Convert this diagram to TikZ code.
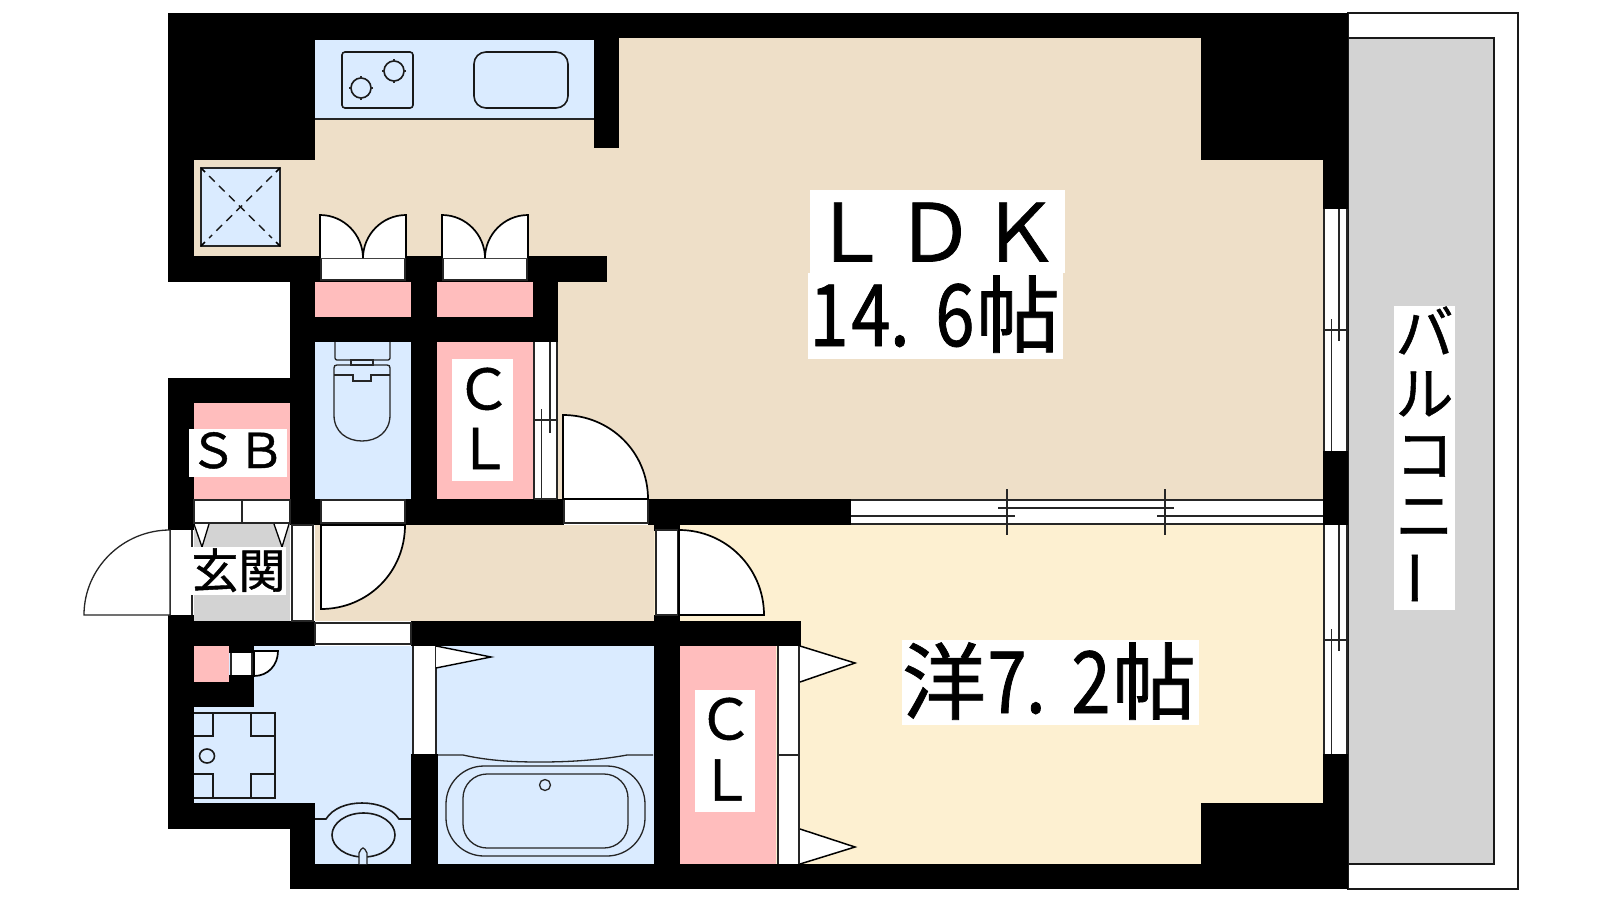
\documentclass[tikz,border=0pt]{standalone}
\usepackage{fontspec}
\newfontfamily\jp[FakeBold=0.9]{Noto Sans CJK JP}
\newfontfamily\jpn[FakeStretch=0.82,FakeBold=0.9]{Noto Sans CJK JP}
\definecolor{tanroom}{HTML}{EEDFC8}
\definecolor{creamroom}{HTML}{FDF0D1}
\definecolor{wetroom}{HTML}{DAEBFF}
\definecolor{closet}{HTML}{FFBDBD}
\definecolor{porch}{HTML}{D3D3D3}
\newcommand{\hw}[1]{\makebox[42pt][c]{\jpn\fontsize{86}{86}\selectfont #1}}
\newcommand{\hwdot}{\makebox[42pt][l]{\hspace{-2pt}\jpn\fontsize{86}{86}\selectfont .}}
\newcommand{\wide}[1]{\makebox[85pt][c]{\jp\fontsize{80}{80}\selectfont #1}}
\tikzset{
  wall/.style={fill=black},
  opening/.style={fill=white},
  fine/.style={draw=black!85,line width=1.3pt},
  fix/.style={draw=black!90,line width=1.6pt},
  leaf/.style={draw=black,line width=1.7pt,fill=white,line join=miter},
  label/.style={inner sep=0pt,outer sep=0pt,anchor=base,text=black},
}
\begin{document}
\begin{tikzpicture}[x=1pt,y=-1pt]
\useasboundingbox (0,0) rectangle (1600,900);
\fill[white] (0,0) rectangle (1600,900);
% balcony
\fill[white,fix] (1348,13) rectangle (1518,889);
\fill[porch,fix] (1348,38) rectangle (1494,864);
% rooms
\fill[tanroom] (194,38) rectangle (1323,282);
\fill[tanroom] (558,282) rectangle (1323,500);
\fill[tanroom] (315,525) rectangle (654,621);
\fill[creamroom] (654,525) rectangle (1323,864);
\fill[wetroom] (315,40) rectangle (594,119);
\draw[fine] (315,119) -- (594,119);
\fill[wetroom] (315,342) rectangle (411,499);
\fill[wetroom] (194,646) rectangle (411,803);
\fill[wetroom] (315,803) rectangle (411,864);
\fill[wetroom] (411,646) rectangle (654,864);
\fill[closet] (315,282) rectangle (411,317);
\fill[closet] (437,282) rectangle (533,317);
\fill[closet] (437,342) rectangle (533,499);
\fill[closet] (194,403) rectangle (290,499);
\fill[closet] (194,646) rectangle (229,682);
\fill[closet] (680,646) rectangle (776,864);
\fill[porch] (194,523) rectangle (290,621);
% walls
\fill[wall] (168,13) rectangle (619,40);
\fill[wall] (619,13) rectangle (1348,38);
\fill[wall] (168,13) rectangle (315,160);
\fill[wall] (168,13) rectangle (194,282);
\fill[wall] (168,256) rectangle (607,282);
\fill[wall] (594,13) rectangle (619,148);
\fill[wall] (290,282) rectangle (315,525);
\fill[wall] (290,317) rectangle (558,342);
\fill[wall] (411,282) rectangle (437,342);
\fill[wall] (533,282) rectangle (558,342);
\fill[wall] (411,342) rectangle (437,525);
\fill[wall] (290,499) rectangle (321,525);
\fill[wall] (405,499) rectangle (564,525);
\fill[wall] (648,499) rectangle (851,525);
\fill[wall] (168,378) rectangle (290,403);
\fill[wall] (168,378) rectangle (194,530);
\fill[wall] (654,525) rectangle (680,531);
\fill[wall] (654,615) rectangle (680,864);
\fill[wall] (168,621) rectangle (315,646);
\fill[wall] (411,621) rectangle (801,646);
\fill[wall] (168,615) rectangle (194,829);
\fill[wall] (168,803) rectangle (315,829);
\fill[wall] (290,803) rectangle (315,889);
\fill[wall] (290,864) rectangle (1348,889);
\fill[wall] (411,754) rectangle (438,864);
\fill[wall] (1201,13) rectangle (1348,160);
\fill[wall] (1323,13) rectangle (1348,209);
\fill[wall] (1323,451) rectangle (1348,525);
\fill[wall] (1323,754) rectangle (1348,889);
\fill[wall] (1201,803) rectangle (1348,889);
\fill[wall] (194,682) rectangle (254,707);
\fill[wall] (229,646) rectangle (254,653);
\fill[wall] (229,675) rectangle (254,682);
% kitchen fixtures
\draw[fix,rounded corners=3pt] (342,52) rectangle (413,108);
\foreach \cx/\cy in {361/88,394/71}{
  \draw[fix] (\cx,\cy) circle[radius=10pt];
  \draw[fine] (\cx-12,\cy) -- (\cx-9,\cy) (\cx+12,\cy) -- (\cx+9,\cy) (\cx,\cy-12) -- (\cx,\cy-9) (\cx,\cy+12) -- (\cx,\cy+9);
}
\draw[fix,rounded corners=12pt] (474,52) rectangle (568,108);
% shaft
\fill[wetroom,draw=black!85,line width=1.6pt] (201,168) rectangle (280,246);
\draw[black!90,line width=1.4pt,dash pattern=on 8pt off 6pt] (209,176) -- (272,238) (272,176) -- (209,238);
\draw[black,line width=1.6pt] (201,168) -- (205,172) (280,168) -- (276,172) (201,246) -- (205,242) (280,246) -- (276,242);
% double doors above closets
\foreach \dx in {321,443}{
  \fill[opening,fine] (\dx,258) rectangle (\dx+84,280);
  \fill[white] (\dx,215) -- (\dx,258) -- (\dx+84,258) -- (\dx+84,215) .. controls (\dx+60,215) and (\dx+42,235) .. (\dx+42,258) .. controls (\dx+42,235) and (\dx+24,215) .. (\dx,215) -- cycle;
  \draw[black,line width=1.7pt] (\dx-1,258) -- (\dx-1,215) .. controls (\dx+23,215) and (\dx+42,235) .. (\dx+42,258) .. controls (\dx+42,235) and (\dx+61,215) .. (\dx+85,215) -- (\dx+85,258);
}
% toilet
\draw[fine,rounded corners=2pt] (335,342) -- (335,360) -- (390,360) -- (390,342);
\draw[fine] (351,360) rectangle (373,365);
\draw[fine] (334,415) -- (334,368) .. controls (334,366) and (335,365) .. (337,365) -- (387,365) .. controls (389,365) and (390,366) .. (390,368) -- (390,415) .. controls (390,432) and (377,441) .. (362,441) .. controls (347,441) and (334,432) .. (334,415) -- cycle;
\draw[fine] (334,375) -- (353,375) -- (353,381) -- (371,381) -- (371,375) -- (390,375);
% CL sliding doors
\fill[opening] (534,342) rectangle (557,499);
\draw[fine] (534,342) -- (534,499) (557,342) -- (557,499) (534,499) -- (557,499) (534,420) -- (557,420) (550,342) -- (550,433) (541.5,409) -- (541.5,499);
% LDK door
\fill[opening,fine] (564,499) rectangle (648,523);
\draw[leaf] (563,499) -- (563,415) .. controls (610,415) and (648,452) .. (648,499) -- cycle;
% bedroom door
\fill[opening,fine] (656,530) rectangle (678,615);
\draw[leaf] (679,615) -- (679,530) .. controls (726,530) and (764,568) .. (764,615) -- cycle;
% SB doors
\fill[opening,fine] (194,500) rectangle (290,523);
\draw[fine] (242,500) -- (242,523);
\draw[leaf,line width=1.3pt] (194,524) -- (202,547) -- (209,524);
\draw[leaf,line width=1.3pt] (274,524) -- (282,547) -- (289,524);
% entrance
\fill[opening] (170,530) rectangle (194,615);
\draw[fine] (170,530) -- (170,615) (192,530) -- (192,615);
\draw[fine,fill=white] (170,615) -- (170,530) .. controls (123,530) and (84,568) .. (84,615) -- cycle;
\fill[opening] (290,525) rectangle (315,621);
\draw[fine] (292,525) rectangle (313,621);
% toilet door
\fill[opening,fine] (321,500) rectangle (405,523);
\draw[leaf] (321,525) -- (321,609) .. controls (368,609) and (405,572) .. (405,525) -- cycle;
% openings in wash room
\fill[opening,fine] (315,623) rectangle (411,644);
\fill[opening] (231,653) rectangle (252,675);
\draw[fine] (231,653) -- (231,675) (252,653) -- (252,675);
\draw[leaf] (254,651) -- (278,651) .. controls (278,665) and (268,676) .. (254,676) -- cycle;
% washing pan
\draw[fix] (194,713) -- (275,713) -- (275,798) -- (194,798);
\draw[fix] (194,736) -- (213,736) -- (213,713) (275,736) -- (251,736) -- (251,713) (194,774) -- (213,774) -- (213,798) (275,774) -- (251,774) -- (251,798);
\draw[fix] (207,756) ellipse[x radius=7.5pt,y radius=7pt];
% vanity
\draw[fix] (315,819) -- (326,819) .. controls (333,808) and (347,803) .. (362,803) .. controls (377,803) and (392,808) .. (399,819) -- (411,819);
\draw[fix] (363.5,835) ellipse[x radius=31.5pt,y radius=22pt];
\fill[wetroom,fine] (359,864) -- (359,853) .. controls (360,850) and (362,848) .. (363,848) .. controls (364,848) and (366,850) .. (367,853) -- (367,864);
% bathroom door
\fill[opening] (413,646) rectangle (436,754);
\draw[fine] (413,646) -- (413,754) (436,646) -- (436,754);
\draw[leaf,line width=1.4pt] (436,646) -- (491,657) -- (436,668);
% tub
\draw[fine] (438,755) -- (463,755) .. controls (490,761) and (515,762) .. (540,762) .. controls (570,762) and (600,760) .. (627,755) -- (653,755);
\draw[fine,rounded corners=38pt] (446,766) rectangle (645,856);
\draw[fine,rounded corners=24pt] (463,774) rectangle (628,848);
\draw[fine] (545,785) circle[radius=5.5pt];
% bedroom closet doors
\fill[opening] (778,646) rectangle (799,864);
\draw[fine] (778,646) -- (778,864) (799,646) -- (799,864) (778,755) -- (799,755);
\draw[leaf,line width=1.5pt] (800,646) -- (855,663) -- (800,682);
\draw[leaf,line width=1.5pt] (800,829) -- (855,847) -- (800,864);
% south windows
\foreach \wy in {209,525}{
  \pgfmathsetmacro{\wb}{\wy==209 ? 451 : 754}
  \pgfmathsetmacro{\wm}{\wy==209 ? 330 : 640}
  \pgfmathsetmacro{\wa}{\wm+11}
  \pgfmathsetmacro{\wc}{\wm-11}
  \fill[opening] (1324,\wy) rectangle (1347,\wb);
  \draw[fine] (1324,\wy) -- (1324,\wb) (1347,\wy) -- (1347,\wb) (1324,\wm) -- (1347,\wm) (1339,\wy) -- (1339,\wa) (1331.5,\wc) -- (1331.5,\wb);
}
% LDK / bedroom window
\fill[opening] (851,500) rectangle (1323,524);
\draw[fine] (851,500) -- (1323,500) (851,524) -- (1323,524) (851,516) -- (1015,516) (998,508) -- (1174,508) (1157,516) -- (1323,516) (1007,489) -- (1007,535) (1165,489) -- (1165,535);
% labels
\fill[white] (810,190) rectangle (1065,273);
\fill[white] (808,273) rectangle (1063,359);
\node[label] (ldk) at (935,261.5) {\wide{Ｌ}\wide{Ｄ}\wide{Ｋ}};
\node[label] (ldkarea) at (934,346) {\hw{1}\hw{4}\hwdot\hw{6}{\jp\fontsize{84}{84}\selectfont 帖}};
\fill[white] (902,640) rectangle (1199,725);
\node[label] (bed) at (1049,713) {{\jp\fontsize{84}{84}\selectfont 洋}\hw{7}\hwdot\hw{2}{\jp\fontsize{84}{84}\selectfont 帖}};
\fill[white] (452,359) rectangle (513,481);
\node[label] (clone) at (483.5,409.5) {\jp\fontsize{56}{56}\selectfont Ｃ};
\node[label] (cltwo) at (484,469) {\jp\fontsize{56}{56}\selectfont Ｌ};
\fill[white] (695,690) rectangle (755,812);
\node[label] (clthree) at (725.5,739.5) {\jp\fontsize{56}{56}\selectfont Ｃ};
\node[label] (clfour) at (726,800.5) {\jp\fontsize{56}{56}\selectfont Ｌ};
\fill[white] (189,429) rectangle (287,477);
\node[label] (sb) at (237,468) {\jp\fontsize{48}{48}\selectfont ＳＢ};
\fill[white] (191,547) rectangle (286,595);
\node[label] (genkan) at (238.5,588) {\jp\fontsize{47}{47}\selectfont 玄関};
\fill[white] (1394,306) rectangle (1455,610);
\node[label] (ba) at (1424.5,354) {\jp\fontsize{58}{58}\selectfont バ};
\node[label] (ru) at (1424.5,415) {\jp\fontsize{58}{58}\selectfont ル};
\node[label] (ko) at (1424.5,476) {\jp\fontsize{58}{58}\selectfont コ};
\node[label] (ni) at (1424.5,537) {\jp\fontsize{58}{58}\selectfont ニ};
\node[inner sep=0pt,text=black] (bar) at (1424.5,578) {\rotatebox{90}{\jp\fontsize{58}{58}\selectfont ー}};
\end{tikzpicture}
\end{document}
